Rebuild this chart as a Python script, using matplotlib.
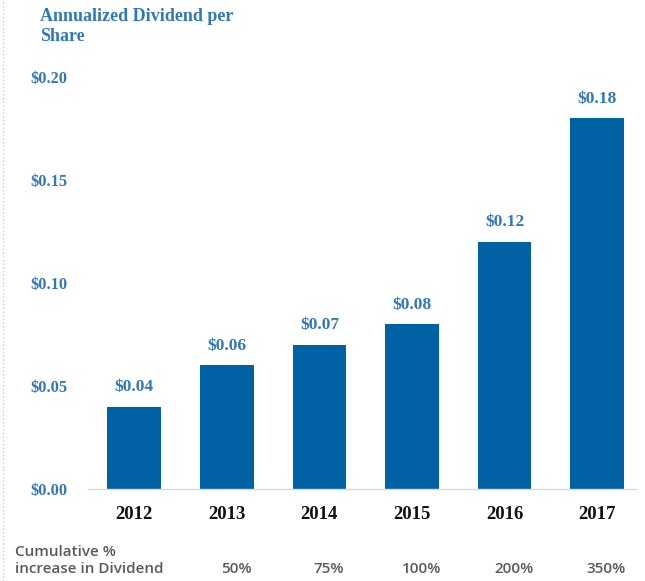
import matplotlib
matplotlib.use("Agg")
import matplotlib.pyplot as plt
from matplotlib.lines import Line2D
import matplotlib.transforms as mtrans

years = ["2012", "2013", "2014", "2015", "2016", "2017"]
dividends = [0.04, 0.06, 0.07, 0.08, 0.12, 0.18]
value_labels = ["$0.04", "$0.06", "$0.07", "$0.08", "$0.12", "$0.18"]
ytick_values = [0.00, 0.05, 0.10, 0.15, 0.20]
ytick_labels = ["$0.00", "$0.05", "$0.10", "$0.15", "$0.20"]
pct_years_idx = [1, 2, 3, 4, 5]
pct_labels = ["50%", "75%", "100%", "200%", "350%"]

BAR = "#0062a4"
BLUE_TXT = "#3178bb"
GRAY_TXT = "#5a5a5a"
SERIF = ["Liberation Serif", "DejaVu Serif"]
SANS = ["Open Sans", "DejaVu Sans"]

fig = plt.figure(figsize=(6.45, 5.81), dpi=100)
ax = fig.add_axes([88/645, 1-489/581, (636-88)/645, (489-77)/581])

x = list(range(len(years)))
ax.bar(x, dividends, width=0.58, color=BAR, zorder=2)
ax.set_xlim(-0.5, 5.42)
ax.set_ylim(0, 0.20)

for s in ["top", "right", "left"]:
    ax.spines[s].set_visible(False)
ax.spines["bottom"].set_color("#d9d9d9")
ax.spines["bottom"].set_linewidth(1.0)

ax.set_yticks(ytick_values)
ax.set_yticklabels(ytick_labels, fontfamily=SERIF, fontweight="bold",
                   fontsize=11.8, color=BLUE_TXT)
ax.set_xticks(x)
ax.set_xticklabels(years, fontfamily=SERIF, fontweight="bold",
                   fontsize=13.5, color="#111111")
ax.tick_params(axis="y", length=0, pad=15)
ax.tick_params(axis="x", length=0, pad=12)

for xi, v, lab in zip(x, dividends, value_labels):
    ax.annotate(lab, (xi, v), xytext=(0, 14), textcoords="offset points",
                ha="center", va="center", fontfamily=SERIF, fontweight="bold",
                fontsize=12.5, color=BLUE_TXT)

fig.text(40/645, 1-8/581, "Annualized Dividend per\nShare", ha="left", va="top",
         fontfamily=SERIF, fontweight="bold", fontsize=13, color=BLUE_TXT,
         linespacing=1.25)

fig.text(15/645, 1-552/581, "Cumulative %", ha="left", va="center",
         fontfamily=SANS, fontsize=11, fontweight="semibold", color=GRAY_TXT)
fig.text(15/645, 1-569/581, "increase in Dividend", ha="left", va="center",
         fontfamily=SANS, fontsize=11, fontweight="semibold", color=GRAY_TXT)

trans = mtrans.blended_transform_factory(ax.transData, fig.transFigure)
for i, lab in zip(pct_years_idx, pct_labels):
    ax.text(i + 0.1, 1-569/581, lab, transform=trans, ha="center", va="center",
            fontfamily=SANS, fontsize=11, fontweight="semibold", color=GRAY_TXT,
            clip_on=False)

fig.add_artist(Line2D([3/645, 3/645], [0, 1], transform=fig.transFigure,
                      color="#cccccc", linestyle=":", linewidth=1))

fig.savefig("out.png", dpi=100)
